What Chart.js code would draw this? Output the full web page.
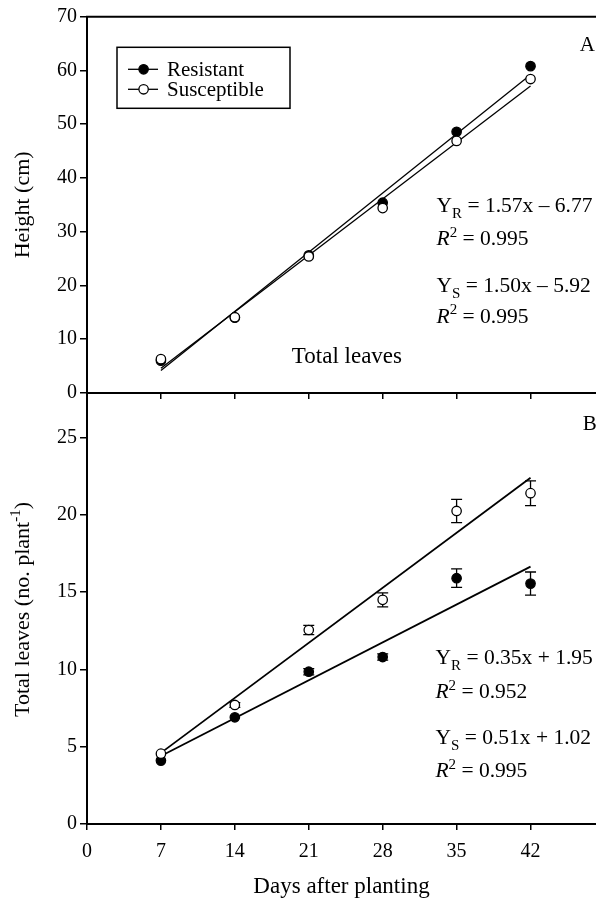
<!DOCTYPE html>
<html>
<head>
<meta charset="utf-8">
<script src="https://cdn.jsdelivr.net/npm/chart.js@4.4.1/dist/chart.umd.min.js"></script>
<style>
  html, body { margin: 0; padding: 0; background: #fff; }
  #wrap { position: relative; width: 596px; height: 901px; overflow: hidden; }
  canvas { position: absolute; left: 0; }
  #heightChart { top: 0; }
  #leavesChart { top: 380px; }
</style>
</head>
<body>
<div id="wrap">
  <canvas id="heightChart" width="596" height="413"></canvas>
  <canvas id="leavesChart" width="596" height="521"></canvas>
</div>
<script>
'use strict';
// data
const days = [7, 14, 21, 28, 35, 42];
const xTicks = [0, 7, 14, 21, 28, 35, 42];
const heightTicks = [0, 10, 20, 30, 40, 50, 60, 70];
const leavesTicks = [0, 5, 10, 15, 20, 25];

const heightResistant = [6.0, 14.0, 25.6, 35.4, 48.6, 60.8];
const heightSusceptible = [6.3, 14.1, 25.4, 34.4, 46.9, 58.4];

const leavesResistant = [4.1, 6.9, 9.85, 10.8, 15.9, 15.55];
const leavesResistantErr = [0, 0, 0.2, 0.2, 0.6, 0.75];
const leavesSusceptible = [4.55, 7.7, 12.55, 14.5, 20.25, 21.4];
const leavesSusceptibleErr = [0, 0.15, 0.3, 0.45, 0.75, 0.8];

// fitted lines, read at day 7 and day 42
const fitDays = [7, 42];
const heightFitR = [4.2, 59.2];
const heightFitS = [4.6, 57.1];
const leavesFitR = [4.4, 16.65];
const leavesFitS = [4.6, 22.4];

const serif = "'Liberation Serif', 'Times New Roman', serif";
Chart.defaults.font.family = serif;
Chart.defaults.font.size = 20;
Chart.defaults.color = '#000';

const pointSet = (label, ys, filled, errs) => ({
    label: label,
    data: days.map((x, i) => ({ x: x, y: ys[i] })),
    errorBars: errs || null,
    showLine: false,
    pointRadius: 4.7,
    pointBorderWidth: 1.3,
    pointBackgroundColor: filled ? '#000' : '#fff',
    pointBorderColor: '#000',
    order: filled ? 1 : 0
});

const fitSet = (ys, width) => ({
    label: '',
    data: fitDays.map((x, i) => ({ x: x, y: ys[i] })),
    showLine: true,
    borderColor: '#000',
    borderWidth: width,
    pointRadius: 0,
    order: 2
});

const xScale = (labels, height) => ({
    type: 'linear',
    min: 0,
    max: 48.2,
    afterBuildTicks: s => { s.ticks = xTicks.map(v => ({ value: v })); },
    afterFit: s => { s.height = height; },
    border: { display: true, color: '#000', width: 2 },
    grid: { drawOnChartArea: false, tickLength: 6, color: '#000', lineWidth: 1.5 },
    ticks: { display: labels, padding: 10, maxRotation: 0, autoSkip: false },
    title: { display: labels, text: 'Days after planting', font: { size: 23 }, padding: { top: 0, bottom: 0 } }
});

const yScale = (max, ticks) => ({
    type: 'linear',
    min: 0,
    max: max,
    afterBuildTicks: s => { s.ticks = ticks.map(v => ({ value: v })); },
    afterFit: s => { s.width = 87; },
    border: { display: true, color: '#000', width: 2 },
    grid: { drawOnChartArea: false, tickLength: 7, color: '#000', lineWidth: 1.5 },
    ticks: { padding: 3 }
});

// text with sub / superscripts
const setFont = (ctx, k, size) => {
    const small = k === 'sub' || k === 'sup';
    ctx.font = (k === 'i' ? 'italic ' : '') + (small ? Math.round(size * 0.68) : size) + 'px ' + serif;
};
const richWidth = (ctx, parts, size) => {
    let w = 0;
    parts.forEach(([t, k]) => {
        setFont(ctx, k, size);
        w += ctx.measureText(t).width;
    });
    return w;
};
const drawRich = (ctx, x, y, parts, size) => {
    let cx = x;
    ctx.textAlign = 'left';
    ctx.textBaseline = 'alphabetic';
    parts.forEach(([t, k]) => {
        setFont(ctx, k, size);
        const dy = k === 'sub' ? size * 0.28 : k === 'sup' ? -size * 0.4 : 0;
        ctx.fillText(t, cx, y + dy);
        cx += ctx.measureText(t).width;
    });
};

const panelPlugin = {
    id: 'panel',
    beforeDatasetsDraw(chart) {
        const ctx = chart.ctx;
        const { x, y } = chart.scales;
        ctx.save();
        ctx.strokeStyle = '#000';
        ctx.lineWidth = 1.3;
        chart.data.datasets.forEach(ds => {
            if (!ds.errorBars) return;
            ds.data.forEach((p, i) => {
                const e = ds.errorBars[i];
                if (!e) return;
                const px = x.getPixelForValue(p.x);
                const top = y.getPixelForValue(p.y + e);
                const bot = y.getPixelForValue(p.y - e);
                ctx.beginPath();
                ctx.moveTo(px, top); ctx.lineTo(px, bot);
                ctx.moveTo(px - 5.5, top); ctx.lineTo(px + 5.5, top);
                ctx.moveTo(px - 5.5, bot); ctx.lineTo(px + 5.5, bot);
                ctx.stroke();
            });
        });
        ctx.restore();
    },
    afterDraw(chart, args, opts) {
        const ctx = chart.ctx;
        const ca = chart.chartArea;
        const { x, y } = chart.scales;
        ctx.save();
        ctx.fillStyle = '#000';
        ctx.strokeStyle = '#000';
        if (opts.topBorder) {
            ctx.lineWidth = 2;
            ctx.beginPath();
            ctx.moveTo(ca.left - 1, ca.top);
            ctx.lineTo(ca.right, ca.top);
            ctx.stroke();
        }
        (opts.notes || []).forEach(n => {
            drawRich(ctx, x.getPixelForValue(n.x), y.getPixelForValue(n.y), n.parts, n.size || 21.5);
        });
        // rotated y title
        ctx.save();
        ctx.translate(22, (ca.top + ca.bottom) / 2);
        ctx.rotate(-Math.PI / 2);
        drawRich(ctx, -richWidth(ctx, opts.yTitle, 22) / 2, 7, opts.yTitle, 22);
        ctx.restore();
        if (opts.legend) {
            const bx = ca.left + 30, by = ca.top + 30.6;
            ctx.lineWidth = 1.5;
            ctx.strokeRect(bx, by, 173, 61);
            const rows = [['Resistant', '#000'], ['Susceptible', '#fff']];
            rows.forEach(([name, fill], i) => {
                const ry = by + 22 + i * 20;
                ctx.lineWidth = 1.3;
                ctx.beginPath();
                ctx.moveTo(bx + 11, ry); ctx.lineTo(bx + 41, ry);
                ctx.stroke();
                ctx.beginPath();
                ctx.arc(bx + 26.6, ry, 4.7, 0, Math.PI * 2);
                ctx.fillStyle = fill;
                ctx.fill();
                ctx.stroke();
                ctx.fillStyle = '#000';
                ctx.font = '21px ' + serif;
                ctx.textAlign = 'left';
                ctx.textBaseline = 'middle';
                ctx.fillText(name, bx + 50, ry + 1);
            });
        }
        ctx.restore();
    }
};

const baseOptions = (padTop, xs, ys, panel) => ({
    responsive: false,
    animation: false,
    devicePixelRatio: 1,
    layout: { autoPadding: false, padding: { top: padTop, left: 0, right: 0, bottom: 0 } },
    plugins: { legend: { display: false }, tooltip: { enabled: false }, panel: panel },
    scales: { x: xs, y: ys }
});

// panel A: height
new Chart(document.getElementById('heightChart'), {
    type: 'scatter',
    data: {
        datasets: [
            pointSet('Susceptible', heightSusceptible, false),
            pointSet('Resistant', heightResistant, true),
            fitSet(heightFitR, 1.3),
            fitSet(heightFitS, 1.3)
        ]
    },
    options: baseOptions(16.7, xScale(false, 20), yScale(70, heightTicks), {
        topBorder: true,
        legend: true,
        yTitle: [['Height (cm)', '']],
        notes: [
            { x: 46.65, y: 63.6, parts: [['A', '']], size: 21 },
            { x: 33.1, y: 33.6, parts: [['Y', ''], ['R', 'sub'], [' = 1.57x \u2013 6.77', '']] },
            { x: 33.1, y: 27.5, parts: [['R', 'i'], ['2', 'sup'], [' = 0.995', '']] },
            { x: 33.1, y: 18.85, parts: [['Y', ''], ['S', 'sub'], [' = 1.50x \u2013 5.92', '']] },
            { x: 33.1, y: 13.1, parts: [['R', 'i'], ['2', 'sup'], [' = 0.995', '']] },
            { x: 19.4, y: 5.6, parts: [['Total leaves', '']], size: 23 }
        ]
    }),
    plugins: [panelPlugin]
});

// panel B: total leaves
new Chart(document.getElementById('leavesChart'), {
    type: 'scatter',
    data: {
        datasets: [
            pointSet('Susceptible', leavesSusceptible, false, leavesSusceptibleErr),
            pointSet('Resistant', leavesResistant, true, leavesResistantErr),
            fitSet(leavesFitR, 1.8),
            fitSet(leavesFitS, 1.8)
        ]
    },
    options: baseOptions(13, xScale(true, 77), yScale(27.75, leavesTicks), {
        yTitle: [['Total leaves (no. plant', ''], ['-1', 'sup'], [')', '']],
        notes: [
            { x: 46.95, y: 25.48, parts: [['B', '']], size: 21 },
            { x: 33.0, y: 10.37, parts: [['Y', ''], ['R', 'sub'], [' = 0.35x + 1.95', '']] },
            { x: 33.0, y: 8.12, parts: [['R', 'i'], ['2', 'sup'], [' = 0.952', '']] },
            { x: 33.0, y: 5.15, parts: [['Y', ''], ['S', 'sub'], [' = 0.51x + 1.02', '']] },
            { x: 33.0, y: 3.03, parts: [['R', 'i'], ['2', 'sup'], [' = 0.995', '']] }
        ]
    }),
    plugins: [panelPlugin]
});
</script>
</body>
</html>
